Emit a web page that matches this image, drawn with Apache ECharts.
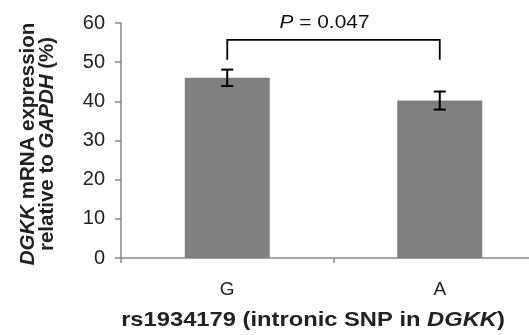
<!DOCTYPE html>
<html><head><meta charset="utf-8">
<script src="https://cdn.jsdelivr.net/npm/echarts@6/dist/echarts.min.js"></script>
<style>html,body{margin:0;padding:0;background:#fff}#c{width:529px;height:335px}</style>
</head><body><div id="c"></div>
<script>
const categories = ['G', 'A'];
const values = [46.0, 40.2];
const errors = [2.1, 2.3];
const yTicks = { min: 0, max: 60, interval: 10 };
const bracket = { from: 0, to: 1, top: 55.7, bottom: 50.6, label: 'P = 0.047' };

const chart = echarts.init(document.getElementById('c'), null, { renderer: 'canvas' });
const FONT = 'Liberation Sans, Arial, sans-serif';
chart.setOption({
  animation: false,
  backgroundColor: '#fff',
  grid: { left: 121, right: -17, top: 23, bottom: 77, containLabel: false, outerBoundsMode: 'none' },
  xAxis: {
    type: 'category', data: categories, boundaryGap: true,
    axisLine: { lineStyle: { color: '#888', width: 1.5 } },
    axisTick: { show: true, length: 5, lineStyle: { color: '#888', width: 1.5 } },
    axisLabel: { color: '#222', fontSize: 19, fontFamily: FONT, margin: 22 }
  },
  yAxis: {
    type: 'value', min: yTicks.min, max: yTicks.max, interval: yTicks.interval,
    splitLine: { show: false },
    axisLine: { show: true, lineStyle: { color: '#888', width: 1.5 } },
    axisTick: { show: true, length: 6, lineStyle: { color: '#888', width: 1.5 } },
    axisLabel: { color: '#222', fontSize: 20, fontFamily: FONT, margin: 16 }
  },
  graphic: [{
    type: 'text', x: 38, y: 144, rotation: Math.PI / 2,
    style: {
      text: '{bi|DGKK}{b| mRNA expression}\n{b|relative to }{bi|GAPDH}{b| (%)}',
      align: 'center', verticalAlign: 'middle',
      rich: {
        b: { fontSize: 20.5, fontWeight: 'bold', fill: '#222', fontFamily: FONT, lineHeight: 19 },
        bi: { fontSize: 20.5, fontWeight: 'bold', fontStyle: 'italic', fill: '#222', fontFamily: FONT, lineHeight: 19 }
      }
    }
  }, {
    type: 'text', x: 313, y: 320, scaleX: 1.13,
    style: {
      text: '{b|rs1934179 (intronic SNP in }{bi|DGKK}{b|)}',
      align: 'center', verticalAlign: 'middle',
      rich: {
        b: { fontSize: 21, fontWeight: 'bold', fill: '#222', fontFamily: FONT },
        bi: { fontSize: 21, fontWeight: 'bold', fontStyle: 'italic', fill: '#222', fontFamily: FONT }
      }
    }
  }],
  series: [
    {
      type: 'bar', data: values, barWidth: '40%',
      itemStyle: { color: '#808080' }
    },
    {
      type: 'custom',
      data: values.map((v, i) => [i, v - errors[i], v + errors[i]]),
      renderItem: function (params, api) {
        const lo = api.coord([api.value(0), api.value(1)]);
        const hi = api.coord([api.value(0), api.value(2)]);
        const w = 6;
        const st = { stroke: '#000', lineWidth: 2 };
        return { type: 'group', children: [
          { type: 'line', shape: { x1: lo[0], y1: lo[1], x2: hi[0], y2: hi[1] }, style: st },
          { type: 'line', shape: { x1: lo[0] - w, y1: lo[1], x2: lo[0] + w, y2: lo[1] }, style: st },
          { type: 'line', shape: { x1: hi[0] - w, y1: hi[1], x2: hi[0] + w, y2: hi[1] }, style: st }
        ]};
      },
      z: 5
    },
    {
      type: 'custom',
      data: [[bracket.from, bracket.to, bracket.top, bracket.bottom]],
      renderItem: function (params, api) {
        const a = api.coord([api.value(0), api.value(3)]);
        const b = api.coord([api.value(0), api.value(2)]);
        const c = api.coord([api.value(1), api.value(2)]);
        const d = api.coord([api.value(1), api.value(3)]);
        return { type: 'group', children: [
          { type: 'polyline', shape: { points: [a, b, c, d] }, style: { stroke: '#000', lineWidth: 1.8, fill: null } },
          { type: 'text', x: (b[0] + c[0]) / 2 - 9, y: b[1] - 8, scaleX: 1.1,
            style: { text: '{i|P}{n| = 0.047}', align: 'center', verticalAlign: 'bottom',
              rich: { i: { fontSize: 19, fontStyle: 'italic', fill: '#111', fontFamily: FONT },
                      n: { fontSize: 19, fill: '#111', fontFamily: FONT } } } }
        ]};
      },
      z: 6
    }
  ]
});
</script></body></html>
